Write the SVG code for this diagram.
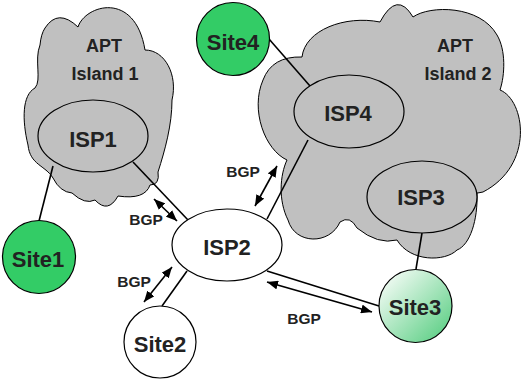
<svg xmlns="http://www.w3.org/2000/svg" width="522" height="384" viewBox="0 0 522 384">
  <defs>
    <style>
      .cloud { fill: #c0c0c0; stroke: #000; stroke-width: 1; }
      .isp-in { fill: #c0c0c0; stroke: #000; stroke-width: 1.2; }
      .isp-out { fill: #fff; stroke: #000; stroke-width: 1.2; }
      .site-green { fill: #33cc66; stroke: #000; stroke-width: 1.2; }
      .site-white { fill: #fff; stroke: #000; stroke-width: 1.2; }
      .link { stroke: #000; stroke-width: 1.6; fill: none; }
      .bgp { stroke: #000; stroke-width: 1.6; fill: none; marker-start: url(#head); marker-end: url(#head); }
      text { font-family: "Liberation Sans", Arial, sans-serif; font-weight: bold; fill: #222; text-anchor: middle; }
      .island { font-size: 18px; }
      .node { font-size: 22px; }
      .lbl { font-size: 15.5px; }
    </style>
    <marker id="head" viewBox="0 0 11 9" refX="11" refY="4.5" markerWidth="11" markerHeight="9" markerUnits="userSpaceOnUse" orient="auto-start-reverse">
      <path d="M0,0 L11,4.5 L0,9 Z" fill="#000"/>
    </marker>
    <linearGradient id="site3Fill" x1="0" y1="0" x2="1" y2="1">
      <stop offset="0.1" stop-color="#f2fbf4"/>
      <stop offset="1" stop-color="#4fcb7b"/>
    </linearGradient>
  </defs>

  <!-- APT islands -->
  <g id="island1">
    <path class="cloud" d="M45,28 Q58,8 78,27 C85,5 135,-10 145,50 C165,50 178,75 172,100 C172,125 165,150 158,172 Q160,185 150,185 Q145,200 118,196 Q108,214 95,200 Q85,205 72,193 Q60,192 53,178 C45,165 30,165 28,145 C22,120 22,95 35,88 C42,80 34,60 40,45 Q41,34 45,28 Z"/>
    <text class="island" x="104" y="52">APT</text>
    <text class="island" x="105" y="80">Island 1</text>
  </g>
  <g id="island2">
    <path class="cloud" d="M263,80 Q272,56 302,57 C305,30 345,15 380,22 Q397,-10 413,17 C430,5 480,5 497,35 C506,50 505,75 500,90 C525,100 535,165 483,192 Q478,193 477,193 C478,220 470,245 457,250 C445,262 410,262 397,240 Q378,245 357,228 Q350,215 340,222 C330,245 295,245 288,220 C278,200 280,175 287,160 C265,150 250,110 263,80 Z"/>
    <text class="island" x="455" y="52">APT</text>
    <text class="island" x="458" y="80">Island 2</text>
  </g>

  <!-- connectors -->
  <g id="connectors">
    <line class="link" x1="53" y1="166" x2="39" y2="221"/>
    <line class="link" x1="133" y1="162" x2="188" y2="220"/>
    <line class="link" x1="187" y1="271" x2="162" y2="306"/>
    <line class="link" x1="308" y1="140" x2="267" y2="219"/>
    <line class="link" x1="269" y1="39" x2="310" y2="86"/>
    <line class="link" x1="422" y1="233" x2="416" y2="269"/>
    <line class="link" x1="267" y1="271" x2="379" y2="306"/>
    <line class="bgp" x1="154" y1="199" x2="177" y2="221"/>
    <line class="bgp" x1="277" y1="166" x2="255" y2="206"/>
    <line class="bgp" x1="172" y1="267" x2="144" y2="302"/>
    <line class="bgp" x1="267" y1="282" x2="372" y2="312"/>
    <text class="lbl" x="146" y="225">BGP</text>
    <text class="lbl" x="243" y="177">BGP</text>
    <text class="lbl" x="134" y="287">BGP</text>
    <text class="lbl" x="304" y="324">BGP</text>
  </g>

  <!-- ISPs -->
  <g id="isp1">
    <ellipse class="isp-in" cx="93" cy="136" rx="55" ry="36"/>
    <text class="node" x="93" y="147">ISP1</text>
  </g>
  <g id="isp2">
    <ellipse class="isp-out" cx="227" cy="245" rx="55" ry="36"/>
    <text class="node" x="227" y="255">ISP2</text>
  </g>
  <g id="isp3">
    <ellipse class="isp-in" cx="422" cy="197" rx="55" ry="36"/>
    <text class="node" x="421" y="205">ISP3</text>
  </g>
  <g id="isp4">
    <ellipse class="isp-in" cx="349" cy="111.5" rx="55" ry="36.5"/>
    <text class="node" x="348" y="121">ISP4</text>
  </g>

  <!-- Sites -->
  <g id="site1">
    <circle class="site-green" cx="39" cy="257" r="36.5"/>
    <text class="node" x="38" y="267">Site1</text>
  </g>
  <g id="site2">
    <circle class="site-white" cx="160" cy="342" r="36"/>
    <text class="node" x="160" y="352">Site2</text>
  </g>
  <g id="site3">
    <circle cx="415.5" cy="306" r="36.5" fill="url(#site3Fill)" stroke="#000" stroke-width="1.2"/>
    <text class="node" x="415" y="315">Site3</text>
  </g>
  <g id="site4">
    <circle class="site-green" cx="233" cy="39" r="36.5"/>
    <text class="node" x="233" y="50">Site4</text>
  </g>
</svg>
